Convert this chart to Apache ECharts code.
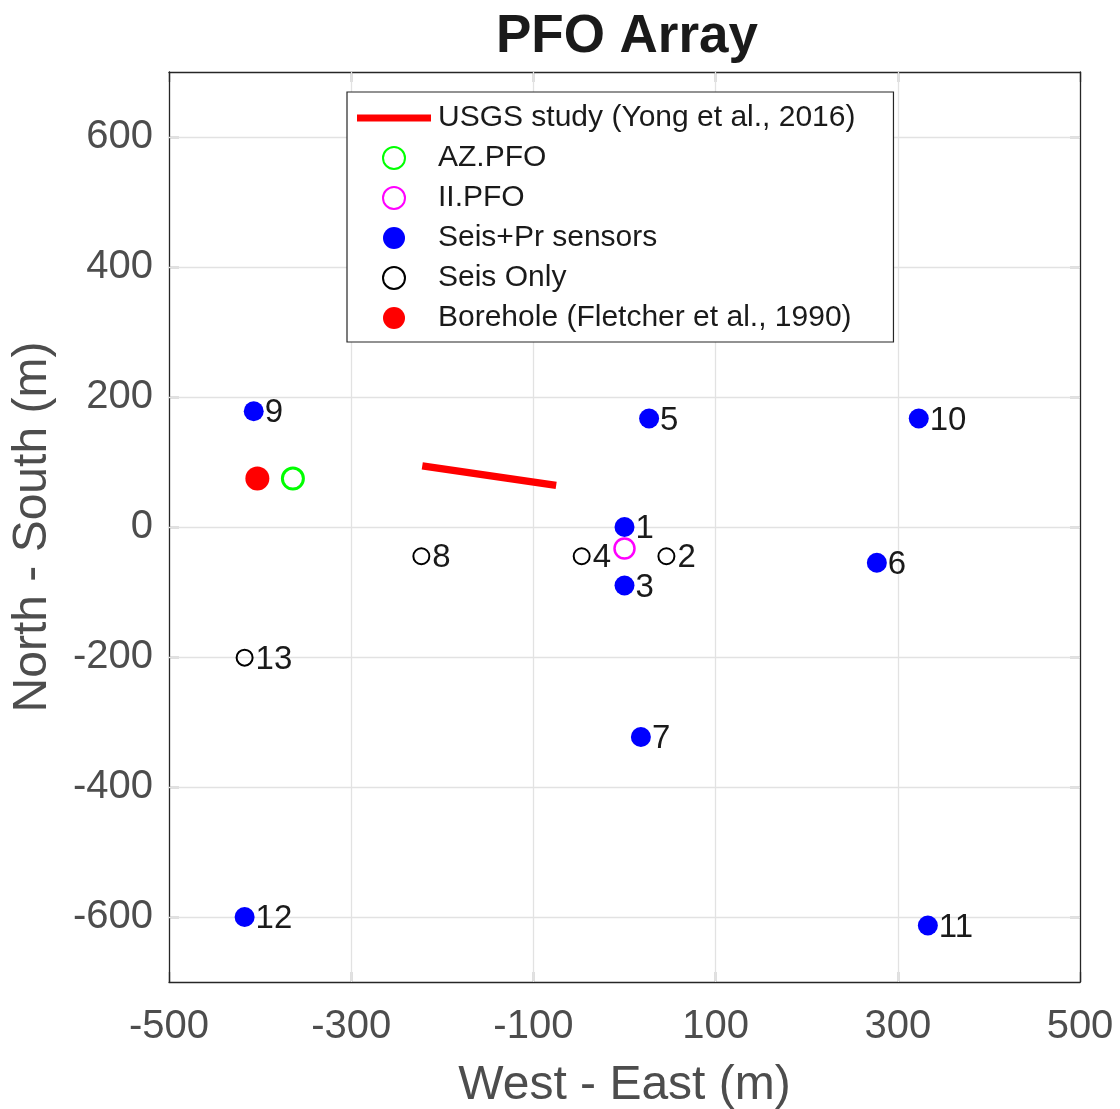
<!DOCTYPE html>
<html><head><meta charset="utf-8">
<script src="https://cdn.jsdelivr.net/npm/echarts@6/dist/echarts.min.js"></script>
<style>html,body{margin:0;padding:0;background:#fff}#c{width:1120px;height:1109px}</style>
</head><body><div id="c"></div>
<script>
// ---- data ----
const xTicks = [-500, -300, -100, 100, 300, 500];
const yTicks = [-600, -400, -200, 0, 200, 400, 600];
const usgsX = [-222, -75];
const usgsY = [94, 64];
const azX = [-364], azY = [74.5];
const iiX = [0], iiY = [-33];
const seisPrId = ['1', '3', '5', '6', '7', '9', '10', '11', '12'];
const seisPrX = [0, 0, 27, 277, 18, -407, 323, 333, -417];
const seisPrY = [0, -90, 167, -55, -323, 178, 167, -613, -600];
const seisId = ['2', '4', '8', '13'];
const seisX = [46, -47, -223, -417];
const seisY = [-45, -45, -45, -201];
const boreX = [-403], boreY = [74.5];
const names = ['USGS study (Yong et al., 2016)', 'AZ.PFO', 'II.PFO', 'Seis+Pr sensors', 'Seis Only', 'Borehole (Fletcher et al., 1990)'];

const FONT = '"Liberation Sans", Arial, Helvetica, sans-serif';
const AX = '#262626';
const TXT = '#4d4d4d';
const pts = (xs, ys, ids) => xs.map((x, i) => ids ? { value: [x, ys[i]], name: ids[i] } : [x, ys[i]]);
const ptLabel = (dist) => ({
  show: true, position: 'right', distance: dist, offset: [0, 2],
  formatter: p => p.name, fontSize: 33, color: '#1a1a1a', fontFamily: FONT, opacity: 1
});

const chart = echarts.init(document.getElementById('c'), null, { renderer: 'canvas' });
const axisCommon = {
  axisLine: { show: true, onZero: false, lineStyle: { color: AX, width: 1.3 } },
  splitLine: { show: false }
};
chart.setOption({
  backgroundColor: '#fff',
  animation: false,
  textStyle: { fontFamily: FONT },
  title: {
    text: 'PFO Array', left: 622, top: 6, textAlign: 'center',
    textStyle: { fontSize: 53, fontWeight: 'bold', color: '#1a1a1a', fontFamily: FONT }
  },
  grid: { left: 169, right: 40, top: 72, bottom: 127, containLabel: false, outerBoundsMode: 'none' },
  legend: {
    orient: 'vertical', left: 347, top: 92,
    data: [
      { name: names[0], icon: 'path://M0,0L74,0L74,7L0,7Z', itemStyle: { color: '#ff0000', borderWidth: 0, opacity: 1 } },
      names[1], names[2], names[3], names[4], names[5]
    ],
    itemWidth: 74, itemHeight: 22, itemGap: 10,
    padding: [11, 38, 9, 10],
    borderColor: AX, borderWidth: 1.2, backgroundColor: '#fff',
    textStyle: { fontSize: 30, lineHeight: 30, color: '#1a1a1a', fontFamily: FONT, padding: [0, 0, 0, 2] },
    selectedMode: false
  },
  xAxis: [
    Object.assign({
      type: 'value', min: -500, max: 500, position: 'bottom',
      axisTick: { show: true, inside: true, length: 10, customValues: xTicks, lineStyle: { color: AX, width: 1.3 } },
      axisLabel: { customValues: xTicks, fontSize: 40, color: TXT, margin: 25, fontFamily: FONT },
      name: 'West - East (m)', nameLocation: 'middle', nameGap: 80,
      nameTextStyle: { fontSize: 48, color: TXT, fontFamily: FONT }
    }, axisCommon),
    Object.assign({
      type: 'value', min: -500, max: 500, position: 'top',
      axisTick: { show: true, inside: true, length: 10, customValues: xTicks, lineStyle: { color: AX, width: 1.3 } },
      axisLabel: { show: false }
    }, axisCommon)
  ],
  yAxis: [
    Object.assign({
      type: 'value', min: -700, max: 700, position: 'left',
      axisTick: { show: true, inside: true, length: 10, customValues: yTicks, lineStyle: { color: AX, width: 1.3 } },
      axisLabel: { customValues: yTicks, fontSize: 40, color: TXT, margin: 16, fontFamily: FONT },
      name: 'North - South (m)', nameLocation: 'middle', nameGap: 112, nameRotate: 90,
      nameTextStyle: { fontSize: 48, color: TXT, fontFamily: FONT }
    }, axisCommon),
    Object.assign({
      type: 'value', min: -700, max: 700, position: 'right',
      axisTick: { show: true, inside: true, length: 10, customValues: yTicks, lineStyle: { color: AX, width: 1.3 } },
      axisLabel: { show: false }
    }, axisCommon)
  ],
  series: [
    {
      name: 'grid', type: 'line', data: [], silent: true,
      markLine: {
        z: 1, silent: true, symbol: 'none', animation: false,
        label: { show: false },
        lineStyle: { color: '#e2e2e2', width: 1.3, type: 'solid' },
        data: xTicks.filter(v => v > -500 && v < 500).map(v => ({ xAxis: v }))
          .concat(yTicks.map(v => ({ yAxis: v })))
      }
    },
    {
      name: names[0], type: 'line', data: pts(usgsX, usgsY), symbol: 'none', showSymbol: false,
      lineStyle: { color: '#ff0000', width: 7.5, cap: 'butt' }, itemStyle: { color: '#ff0000' }, z: 3
    },
    {
      name: names[1], type: 'scatter', data: pts(azX, azY), symbol: 'circle', symbolSize: 21,
      itemStyle: { color: 'rgba(0,0,0,0)', borderColor: '#00ff00', borderWidth: 3, opacity: 1 }, z: 3
    },
    {
      name: names[2], type: 'scatter', data: pts(iiX, iiY), symbol: 'circle', symbolSize: 20,
      itemStyle: { color: 'rgba(0,0,0,0)', borderColor: '#ff00ff', borderWidth: 2.5, opacity: 1 }, z: 3
    },
    {
      name: names[3], type: 'scatter', data: pts(seisPrX, seisPrY, seisPrId), symbol: 'circle', symbolSize: 20,
      itemStyle: { color: '#0000ff', opacity: 1 }, label: ptLabel(1), z: 4
    },
    {
      name: names[4], type: 'scatter', data: pts(seisX, seisY, seisId), symbol: 'circle', symbolSize: 16,
      itemStyle: { color: 'rgba(0,0,0,0)', borderColor: '#000', borderWidth: 2, opacity: 1 }, label: ptLabel(2), z: 4
    },
    {
      name: names[5], type: 'scatter', data: pts(boreX, boreY), symbol: 'circle', symbolSize: 24,
      itemStyle: { color: '#ff0000', opacity: 1 }, z: 3
    }
  ]
});
</script>
</body></html>
